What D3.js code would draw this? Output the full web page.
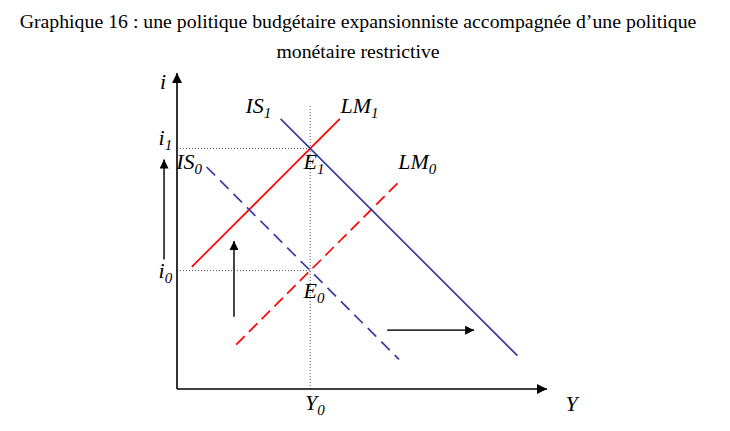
<!DOCTYPE html>
<html><head><meta charset="utf-8">
<script src="https://cdn.jsdelivr.net/npm/d3@7"></script>
<style>body{margin:0;background:#fff}svg{display:block}</style>
</head><body>
<script>
const titleLines = ["Graphique 16 : une politique budgétaire expansionniste accompagnée d’une politique", "monétaire restrictive"];
const xMax = 100, yMax = 85.4;
const Y0 = 36, i0 = 32, i1 = 65;
const LM1 = [[4,33],[44,73]];
const LM0 = [[16,12],[60,56]];
const IS1 = [[28,73],[92,9]];
const IS0 = [[8,60],[60,8]];
const shiftArrows = [ [[-3.5,35],[-3.5,62]], [[15.4,19.5],[15.4,40]], [[56.8,15.9],[80.3,15.9]] ];
const curveLabels = [
  {b:"IS", s:"1", x:18.5, y:74.5},
  {b:"LM", s:"1", x:44.2, y:74.5},
  {b:"IS", s:"0", x:-0.2, y:59.5},
  {b:"LM", s:"0", x:59.8, y:59.5},
  {b:"E", s:"1", x:34.2, y:59.5},
  {b:"E", s:"0", x:34.2, y:24.5},
  {b:"i", s:"1", x:-5, y:66},
  {b:"i", s:"0", x:-5, y:30},
  {b:"Y", s:"0", x:34.6, y:-5.8},
  {b:"i", s:"", x:-4.6, y:81},
  {b:"Y", s:"", x:105, y:-6}
];

const FONT = '"Liberation Serif", serif';
const W = 730, H = 431;
const svg = d3.select("body").append("svg").attr("width", W).attr("height", H);
const x = d3.scaleLinear().domain([0, xMax]).range([177, 547]);
const y = d3.scaleLinear().domain([0, yMax]).range([389, 73]);
const line = d3.line().x(d => x(d[0])).y(d => y(d[1]));

const defs = svg.append("defs");
function marker(id, color, w, h) {
  defs.append("marker").attr("id", id).attr("viewBox", "0 0 10 10").attr("refX", 10).attr("refY", 5)
    .attr("markerUnits", "userSpaceOnUse").attr("markerWidth", w).attr("markerHeight", h).attr("orient", "auto")
    .append("path").attr("d", "M0,0L10,5L0,10Z").attr("fill", color);
}
marker("ax", "#000", 10, 10);
marker("sh", "#000", 10, 9);

// title
const tt = svg.append("g").selectAll("text").data(titleLines).join("text")
  .attr("x", 358).attr("y", (d,i) => 28 + i*30).attr("text-anchor", "middle")
  .style("font-family", FONT).style("font-size", "18px").attr("fill", "#000").text(d => d);
const w0 = tt.node().getComputedTextLength();
const fs = Math.max(14, Math.min(24, 18 * 677 / w0));
tt.style("font-size", fs + "px");

// dotted guides
const dot = svg.append("g").attr("stroke", "#555").attr("stroke-width", 1).attr("stroke-dasharray", "1,2").attr("fill", "none");
dot.append("path").attr("d", line([[Y0, 0], [Y0, 77]]));
dot.append("path").attr("d", line([[0, i1], [Y0, i1]]));
dot.append("path").attr("d", line([[0, i0], [Y0, i0]]));

// axes
svg.append("path").attr("d", line([[0,0],[xMax,0]])).attr("stroke", "#000").attr("stroke-width", 1.6).attr("marker-end", "url(#ax)").attr("fill","none");
svg.append("path").attr("d", line([[0,0],[0,yMax]])).attr("stroke", "#000").attr("stroke-width", 1.6).attr("marker-end", "url(#ax)").attr("fill","none");

// curves
const curves = [
  {d: LM1, c: "#ff0000", dash: null},
  {d: LM0, c: "#ff0000", dash: "12,6"},
  {d: IS1, c: "#3a3a9e", dash: null},
  {d: IS0, c: "#3a3a9e", dash: "12,7"}
];
svg.append("g").selectAll("path").data(curves).join("path")
  .attr("d", d => line(d.d)).attr("stroke", d => d.c).attr("stroke-width", 1.7)
  .attr("stroke-dasharray", d => d.dash).attr("fill", "none");

// shift arrows
svg.append("g").selectAll("path").data(shiftArrows).join("path")
  .attr("d", d => line(d)).attr("stroke", "#333").attr("stroke-width", 1.8)
  .attr("fill", "none").attr("marker-end", "url(#sh)");

// labels
curveLabels.forEach(l => {
  const t = svg.append("text").attr("x", x(l.x)).attr("y", y(l.y))
    .style("font-family", FONT).style("font-style", "italic").style("font-size", "22px").attr("fill", "#000");
  t.append("tspan").text(l.b);
  if (l.s) t.append("tspan").attr("dy", 5).style("font-size", "15px").text(l.s);
});
</script>
</body></html>
